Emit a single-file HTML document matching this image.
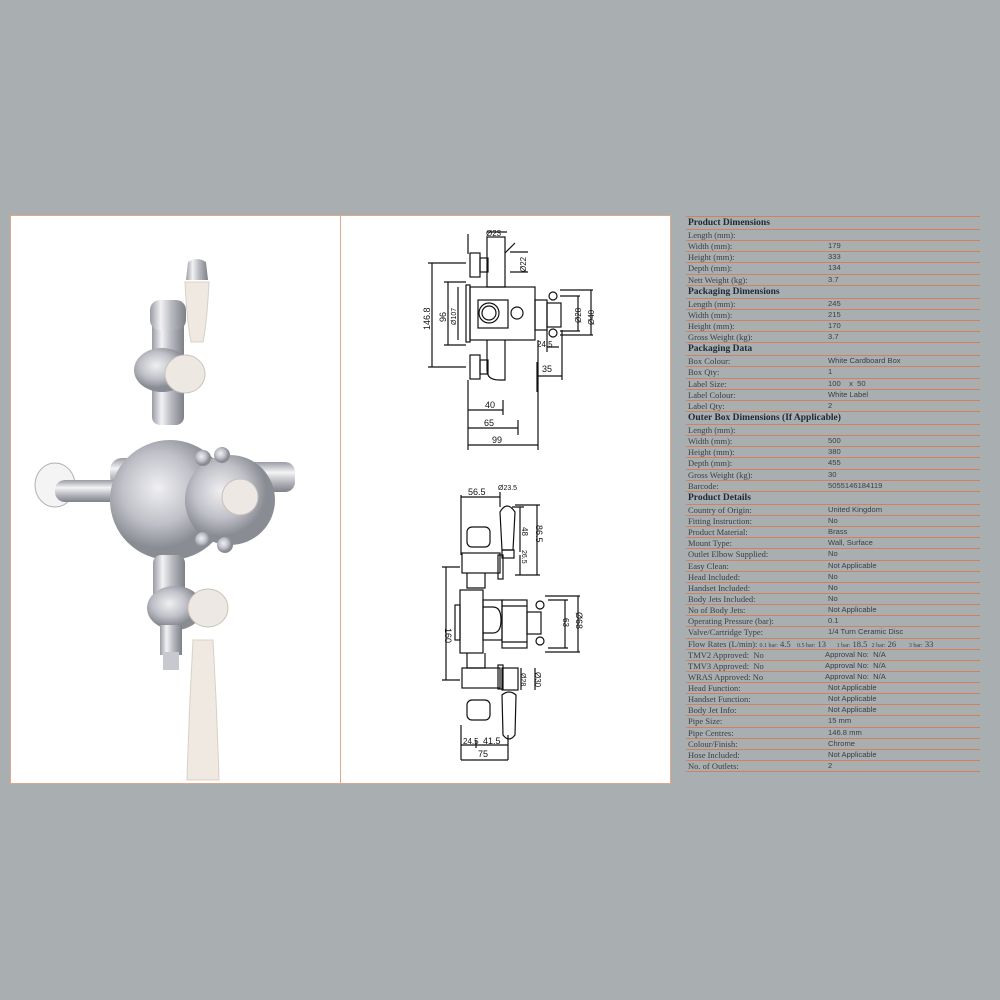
<!DOCTYPE html>
<html><head><meta charset="utf-8">
<style>
html,body{margin:0;padding:0;background:#a9aeb0;}
body{width:1000px;height:1000px;position:relative;overflow:hidden;font-family:"Liberation Serif",serif;}
#panel{position:absolute;left:10px;top:215px;width:659px;height:567px;background:#fff;border:1px solid #e0a88a;}
#div{position:absolute;left:340px;top:215px;width:1px;height:568px;background:#e0a88a;}
svg{position:absolute;left:0;top:0;}
#tbl{position:absolute;left:686px;top:216px;width:294px;}
.r{position:relative;height:10.15px;border-top:1px solid #d0825a;font-size:8.5px;color:#3a4048;line-height:10px;}
.h{height:12px;font-weight:bold;font-size:9.5px;color:#1e2a36;line-height:12px;}
.r span{position:absolute;left:2px;}
.r b{position:absolute;left:142px;font-weight:normal;font-family:"Liberation Sans",sans-serif;font-size:7.6px;}
.last{border-bottom:1px solid #d0825a;}
</style></head><body>
<div id="panel"></div><div id="div"></div>
<svg width="1000" height="1000" viewBox="0 0 1000 1000">
<defs>
<linearGradient id="ch" x1="0" x2="1"><stop offset="0" stop-color="#9a9ca4"/><stop offset=".3" stop-color="#f2f2f4"/><stop offset=".6" stop-color="#b8b9c0"/><stop offset="1" stop-color="#7e8088"/></linearGradient>
<linearGradient id="chv" x1="0" y1="0" x2="0" y2="1"><stop offset="0" stop-color="#9a9ca4"/><stop offset=".35" stop-color="#f4f4f6"/><stop offset=".7" stop-color="#b0b2b8"/><stop offset="1" stop-color="#80828a"/></linearGradient>
<radialGradient id="cr" cx=".4" cy=".4"><stop offset="0" stop-color="#f0f0f2"/><stop offset=".6" stop-color="#c0c1c8"/><stop offset="1" stop-color="#8a8c94"/></radialGradient>
</defs>
<g>
<rect x="152" y="305" width="32" height="120" rx="8" fill="url(#ch)"/>
<rect x="150" y="300" width="36" height="30" rx="10" fill="url(#ch)"/>
<path d="M188 262 q9 -6 18 0 l2 18 h-22z" fill="url(#ch)"/>
<path d="M185 282 h24 q-2 40 -6 60 h-12 q-4 -20 -6 -60z" fill="#efe9e2" stroke="#d8d0c8"/>
<ellipse cx="162" cy="370" rx="28" ry="22" fill="url(#cr)"/>
<ellipse cx="185" cy="374" rx="20" ry="19" fill="#eee8e2" stroke="#c8c2bc"/>
<rect x="110" y="458" width="130" height="30" rx="12" fill="url(#chv)"/>
<ellipse cx="55" cy="485" rx="20" ry="22" fill="#f4f4f4" stroke="#b0b0b4"/>
<rect x="55" y="480" width="70" height="22" rx="10" fill="url(#chv)"/>
<rect x="240" y="462" width="55" height="30" rx="10" fill="url(#chv)"/>
<circle cx="170" cy="500" r="60" fill="url(#cr)"/>
<circle cx="230" cy="500" r="45" fill="url(#cr)"/>
<circle cx="203" cy="458" r="8" fill="url(#cr)"/><circle cx="222" cy="455" r="8" fill="url(#cr)"/>
<circle cx="203" cy="540" r="8" fill="url(#cr)"/><circle cx="225" cy="545" r="8" fill="url(#cr)"/>
<circle cx="240" cy="497" r="18" fill="#eee8e4" stroke="#c8c0bc"/>
<rect x="153" y="555" width="32" height="70" rx="8" fill="url(#ch)"/>
<ellipse cx="175" cy="608" rx="28" ry="22" fill="url(#cr)"/>
<ellipse cx="208" cy="608" rx="20" ry="19" fill="#eee8e2" stroke="#c8c2bc"/>
<rect x="160" y="625" width="22" height="30" fill="url(#ch)"/>
<rect x="163" y="652" width="16" height="18" fill="#c8c9ce"/>
<path d="M193 640 h20 q4 70 6 140 h-32 q2 -70 6 -140z" fill="#efe9e2" stroke="#d8d0c8"/>
</g>
<g fill="none" stroke="#111" stroke-width="1.2" font-family="Liberation Sans,sans-serif" font-size="9">
<rect x="487" y="237" width="18" height="50"/>
<rect x="470" y="287" width="65" height="53"/>
<rect x="466" y="285" width="4" height="57"/>
<rect x="478" y="300" width="30" height="28"/>
<circle cx="489" cy="313" r="10"/><circle cx="489" cy="313" r="7"/>
<circle cx="517" cy="313" r="6"/>
<rect x="535" y="300" width="12" height="30"/>
<rect x="547" y="303" width="14" height="24"/>
<circle cx="553" cy="296" r="4"/><circle cx="553" cy="333" r="4"/>
<rect x="470" y="253" width="10" height="24"/><rect x="480" y="258" width="8" height="14"/>
<rect x="470" y="355" width="10" height="24"/><rect x="480" y="360" width="8" height="14"/>
<path d="M487 340 v30 q0 10 12 10 h6 v-40"/>
<path d="M432 263 v104 M428 263 h38 M428 367 h38 M448 282 v63 M444 282 h22 M444 345 h22 M458 287 v53"/>
<path d="M468 380 v70 M503 400 v15 M518 420 v15 M538 340 v110 M468 410 h35 M468 428 h50 M468 445 h70"/>
<path d="M537 362 v30 M537 376 h25 M562 330 v50 M547 347 h12 M547 330 v22"/>
<path d="M578 296 v35 M591 290 v45 M560 296 h20 M560 331 h20 M560 290 h33 M560 335 h33"/>
<path d="M487 232 h20 M505 253 l10 -10 M510 252 h18 M510 272 h18 M468 234 v20"/>
<g fill="#111" stroke="none">
<text x="485" y="408">40</text><text x="484" y="426">65</text><text x="492" y="443">99</text>
<text x="542" y="372">35</text><text x="537" y="347" font-size="8">24.5</text>
<text x="486" y="236" font-size="8">Ø23</text>
<text transform="translate(430,330) rotate(-90)">146.8</text>
<text transform="translate(446,322) rotate(-90)">96</text>
<text transform="translate(456,325) rotate(-90)" font-size="7">Ø107</text>
<text transform="translate(581,323) rotate(-90)" font-size="8">Ø28</text>
<text transform="translate(594,325) rotate(-90)" font-size="8">Ø40</text>
<text transform="translate(526,272) rotate(-90)" font-size="8">Ø22</text>
</g>
</g>
<g fill="none" stroke="#111" stroke-width="1.2" font-family="Liberation Sans,sans-serif" font-size="9">
<path d="M461 497 h39 M461 495 v60 M500 492 v15"/>
<path d="M500 512 q7 -12 15 0 l-2 38 h-11z"/>
<rect x="502" y="550" width="12" height="8"/>
<rect x="467" y="527" width="23" height="20" rx="5"/>
<rect x="462" y="553" width="38" height="20"/><rect x="498" y="555" width="5" height="24"/>
<path d="M467 573 v15 h18 v-15"/>
<rect x="460" y="590" width="23" height="63"/>
<rect x="455" y="605" width="5" height="35"/>
<rect x="483" y="600" width="19" height="40"/>
<path d="M483 607 h10 q8 0 8 13 q0 13 -8 13 h-10"/>
<rect x="502" y="600" width="25" height="48"/>
<path d="M502 606 h25 M502 642 h25"/>
<rect x="527" y="612" width="14" height="22"/>
<circle cx="540" cy="605" r="4"/><circle cx="540" cy="641" r="4"/>
<path d="M467 653 v15 h18 v-15"/>
<rect x="462" y="668" width="38" height="20"/>
<rect x="502" y="668" width="16" height="22"/><rect x="498" y="665" width="5" height="24"/>
<rect x="467" y="700" width="23" height="20" rx="5"/>
<path d="M502 695 q7 -6 14 0 l-1 40 q-6 8 -12 0z"/>
<path d="M446 567 v113 M442 567 h18 M442 680 h18"/>
<path d="M565 600 v48 M578 596 v56 M548 600 h20 M548 648 h20 M545 596 h35 M545 652 h35"/>
<path d="M520 507 v45 M512 507 h12 M537 505 v70 M515 505 h25 M515 575 h25 M520 555 v20"/>
<path d="M521 668 v22 M535 668 v22"/>
<path d="M461 745 h47 M461 725 v35 M508 735 v25 M461 760 h47 M476 740 v8"/>
<g fill="#111" stroke="none">
<text x="468" y="495">56.5</text><text x="498" y="490" font-size="7">Ø23.5</text>
<text x="463" y="744" font-size="8">24.5</text><text x="483" y="744">41.5</text>
<text x="478" y="757">75</text>
<text transform="translate(445,628) rotate(90)">160</text>
<text transform="translate(563,618) rotate(90)" font-size="8">63</text>
<text transform="translate(576,612) rotate(90)">Ø68</text>
<text transform="translate(522,527) rotate(90)" font-size="8">48</text>
<text transform="translate(536,525) rotate(90)">86.5</text>
<text transform="translate(522,550) rotate(90)" font-size="7">26.5</text>
<text transform="translate(521,673) rotate(90)" font-size="7">Ø28</text>
<text transform="translate(535,672) rotate(90)" font-size="8">Ø30</text>
</g>
</g>
</svg>
<div id="tbl">
<div class="r h"><span>Product Dimensions</span></div>
<div class="r"><span>Length (mm):</span></div>
<div class="r"><span>Width (mm):</span><b>179</b></div>
<div class="r"><span>Height (mm):</span><b>333</b></div>
<div class="r"><span>Depth (mm):</span><b>134</b></div>
<div class="r"><span>Nett Weight (kg):</span><b>3.7</b></div>
<div class="r h"><span>Packaging Dimensions</span></div>
<div class="r"><span>Length (mm):</span><b>245</b></div>
<div class="r"><span>Width (mm):</span><b>215</b></div>
<div class="r"><span>Height (mm):</span><b>170</b></div>
<div class="r"><span>Gross Weight (kg):</span><b>3.7</b></div>
<div class="r h"><span>Packaging Data</span></div>
<div class="r"><span>Box Colour:</span><b>White Cardboard Box</b></div>
<div class="r"><span>Box Qty:</span><b>1</b></div>
<div class="r"><span>Label Size:</span><b>100 &nbsp;&nbsp; x &nbsp;50</b></div>
<div class="r"><span>Label Colour:</span><b>White Label</b></div>
<div class="r"><span>Label Qty:</span><b>2</b></div>
<div class="r h"><span>Outer Box Dimensions (If Applicable)</span></div>
<div class="r"><span>Length (mm):</span></div>
<div class="r"><span>Width (mm):</span><b>500</b></div>
<div class="r"><span>Height (mm):</span><b>380</b></div>
<div class="r"><span>Depth (mm):</span><b>455</b></div>
<div class="r"><span>Gross Weight (kg):</span><b>30</b></div>
<div class="r"><span>Barcode:</span><b>5055146184119</b></div>
<div class="r h"><span>Product Details</span></div>
<div class="r"><span>Country of Origin:</span><b>United Kingdom</b></div>
<div class="r"><span>Fitting Instruction:</span><b>No</b></div>
<div class="r"><span>Product Material:</span><b>Brass</b></div>
<div class="r"><span>Mount Type:</span><b>Wall, Surface</b></div>
<div class="r"><span>Outlet Elbow Supplied:</span><b>No</b></div>
<div class="r"><span>Easy Clean:</span><b>Not Applicable</b></div>
<div class="r"><span>Head Included:</span><b>No</b></div>
<div class="r"><span>Handset Included:</span><b>No</b></div>
<div class="r"><span>Body Jets Included:</span><b>No</b></div>
<div class="r"><span>No of Body Jets:</span><b>Not Applicable</b></div>
<div class="r"><span>Operating Pressure (bar):</span><b>0.1</b></div>
<div class="r"><span>Valve/Cartridge Type:</span><b>1/4 Turn Ceramic Disc</b></div>
<div class="r"><span>Flow Rates (L/min): <small style="font-size:6px">0.1 bar:</small> 4.5 &nbsp; <small style="font-size:6px">0.5 bar:</small> 13 &nbsp;&nbsp;&nbsp; <small style="font-size:6px">1 bar:</small> 18.5 &nbsp;<small style="font-size:6px">2 bar:</small> 26 &nbsp;&nbsp;&nbsp;&nbsp; <small style="font-size:6px">3 bar:</small> 33</span></div>
<div class="r"><span>TMV2 Approved: &nbsp;No</span><b style="left:139px">Approval No: &nbsp;N/A</b></div>
<div class="r"><span>TMV3 Approved: &nbsp;No</span><b style="left:139px">Approval No: &nbsp;N/A</b></div>
<div class="r"><span>WRAS Approved: No</span><b style="left:139px">Approval No: &nbsp;N/A</b></div>
<div class="r"><span>Head Function:</span><b>Not Applicable</b></div>
<div class="r"><span>Handset Function:</span><b>Not Applicable</b></div>
<div class="r"><span>Body Jet Info:</span><b>Not Applicable</b></div>
<div class="r"><span>Pipe Size:</span><b>15 mm</b></div>
<div class="r"><span>Pipe Centres:</span><b>146.8 mm</b></div>
<div class="r"><span>Colour/Finish:</span><b>Chrome</b></div>
<div class="r"><span>Hose Included:</span><b>Not Applicable</b></div>
<div class="r last"><span>No. of Outlets:</span><b>2</b></div>
</div>
</body></html>
